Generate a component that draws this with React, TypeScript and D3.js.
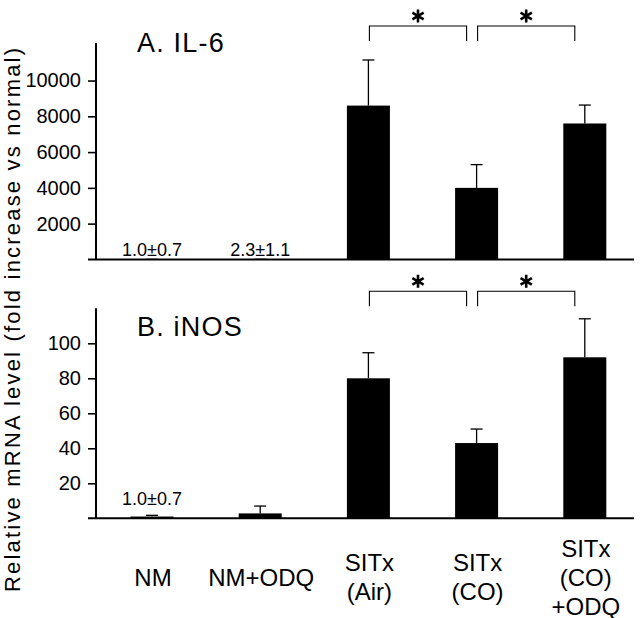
import React, { useEffect, useRef } from 'react';
import * as d3 from 'd3';

// groups on the x axis, with the label broken in lines as printed
const groups = ['NM', 'NM+ODQ', 'SITx (Air)', 'SITx (CO)', 'SITx (CO) +ODQ'];
const groupLabelLines = [['NM'], ['NM+ODQ'], ['SITx', '(Air)'], ['SITx', '(CO)'], ['SITx', '(CO)', '+ODQ']];

// A. IL-6
const il6Mean = [1.0, 2.3, 8600, 4000, 7600];
const il6Err = [0.7, 1.1, 2550, 1300, 1030];
const il6Notes = ['1.0\u00b10.7', '2.3\u00b11.1', '', '', ''];
const il6Ticks = [2000, 4000, 6000, 8000, 10000];
const il6Brackets = [[2, 3], [3, 4]];

// B. iNOS
const inosMean = [1.0, 2.8, 80, 43, 92];
const inosErr = [0.7, 4.2, 14.6, 8, 22];
const inosNotes = ['1.0\u00b10.7', '', '', '', ''];
const inosTicks = [20, 40, 60, 80, 100];
const inosBrackets = [[2, 3], [3, 4]];

const FONT = '"Liberation Sans", Arial, Helvetica, sans-serif';

const App = () => {
  const ref = useRef<SVGSVGElement>(null);
  const width = 640;
  const height = 618;

  useEffect(() => {
    const svg = d3.select(ref.current);
    svg.selectAll('*').remove();

    const axisX = 96;
    const baseX0 = 88;
    const baseX1 = 634;
    const barW = 43;

    const x = d3.scalePoint<string>().domain(groups).range([152, 584.8]);

    const panels = [
      { title: 'A. IL-6', mean: il6Mean, err: il6Err, notes: il6Notes, ticks: il6Ticks, brackets: il6Brackets,
        max: 12100, y0: 259.4, y1: 43, titleY: 51.7, noteGap: 3 },
      { title: 'B. iNOS', mean: inosMean, err: inosErr, notes: inosNotes, ticks: inosTicks, brackets: inosBrackets,
        max: 120, y0: 518.3, y1: 308.3, titleY: 335.7, noteGap: 10 },
    ];

    panels.forEach(p => {
      const y = d3.scaleLinear().domain([0, p.max]).range([p.y0, p.y1]);
      const g = svg.append('g');

      // y axis ticks and labels
      const axis = g.append('g')
        .attr('transform', `translate(${axisX},0)`)
        .call(d3.axisLeft(y).tickValues(p.ticks).tickSize(8).tickPadding(7).tickFormat(d3.format('d')));
      axis.select('.domain').remove();
      axis.selectAll('line').attr('stroke', '#000').attr('stroke-width', 1.6);
      axis.selectAll('text')
        .attr('fill', '#000')
        .style('font-family', FONT)
        .style('font-size', '20px');

      // vertical axis line
      g.append('line')
        .attr('x1', axisX).attr('x2', axisX)
        .attr('y1', y(p.max)).attr('y2', y(0))
        .attr('stroke', '#000').attr('stroke-width', 2);

      // bars
      g.selectAll('.bar')
        .data(p.mean)
        .enter()
        .append('rect')
        .attr('x', (_, i) => (x(groups[i]) as number) - barW / 2)
        .attr('y', d => y(d))
        .attr('width', barW)
        .attr('height', d => y(0) - y(d))
        .attr('fill', '#000');

      // error bars (upper only)
      p.mean.forEach((m, i) => {
        const cx = x(groups[i]) as number;
        g.append('line')
          .attr('x1', cx).attr('x2', cx)
          .attr('y1', y(m)).attr('y2', y(m + p.err[i]))
          .attr('stroke', '#000').attr('stroke-width', 1.3);
        g.append('line')
          .attr('x1', cx - 6).attr('x2', cx + 6)
          .attr('y1', y(m + p.err[i])).attr('y2', y(m + p.err[i]))
          .attr('stroke', '#000').attr('stroke-width', 1.3);
      });

      // baseline
      g.append('line')
        .attr('x1', baseX0).attr('x2', baseX1)
        .attr('y1', y(0)).attr('y2', y(0))
        .attr('stroke', '#000').attr('stroke-width', 2);

      // value notes for the tiny bars
      p.notes.forEach((n, i) => {
        if (!n) return;
        g.append('text')
          .attr('x', x(groups[i]) as number)
          .attr('y', y(p.mean[i] + p.err[i]) - p.noteGap)
          .attr('text-anchor', 'middle')
          .style('font-family', FONT)
          .style('font-size', '18px')
          .text(n);
      });

      // panel title
      g.append('text')
        .attr('x', 137)
        .attr('y', p.titleY)
        .style('font-family', FONT)
        .style('font-size', '27px')
        .style('letter-spacing', '1.2px')
        .text(p.title);

      // significance brackets
      const by = y(p.max) - 17;
      p.brackets.forEach(([a, b]) => {
        const bx1 = (x(groups[a]) as number) + 1;
        const bx2 = (x(groups[b]) as number) - 10;
        g.append('path')
          .attr('d', `M${bx1},${by + 15}V${by}H${bx2}V${by + 15}`)
          .attr('fill', 'none')
          .attr('stroke', '#000')
          .attr('stroke-width', 1.1);
        g.append('path')
          .attr('transform', `translate(${(bx1 + bx2) / 2},${by - 10})`)
          .attr('d', d3.symbol().type(d3.symbolAsterisk).size(120)())
          .attr('fill', 'none')
          .attr('stroke', '#000')
          .attr('stroke-width', 2.6);
      });
    });

    // group labels under the lower panel
    groupLabelLines.forEach((lines, i) => {
      const lh = 29;
      const mid = 577;
      const t = svg.append('text')
        .attr('text-anchor', 'middle')
        .style('font-family', FONT)
        .style('font-size', '24px');
      lines.forEach((ln, k) => {
        t.append('tspan')
          .attr('x', (x(groups[i]) as number) + 1)
          .attr('y', mid + (k - (lines.length - 1) / 2) * lh + 8.5)
          .text(ln);
      });
    });

    // shared y axis title
    svg.append('text')
      .attr('transform', 'translate(20,320) rotate(-90)')
      .attr('text-anchor', 'middle')
      .attr('textLength', 544)
      .attr('lengthAdjust', 'spacing')
      .style('font-family', FONT)
      .style('font-size', '22px')
      .text('Relative mRNA level (fold increase vs normal)');
  }, []);

  return (
    <svg
      ref={ref}
      width={width}
      height={height}
      viewBox={`0 0 ${width} ${height}`}
      style={{ position: 'absolute', left: 0, top: 0, background: '#fff' }}
    />
  );
};

export default App;
